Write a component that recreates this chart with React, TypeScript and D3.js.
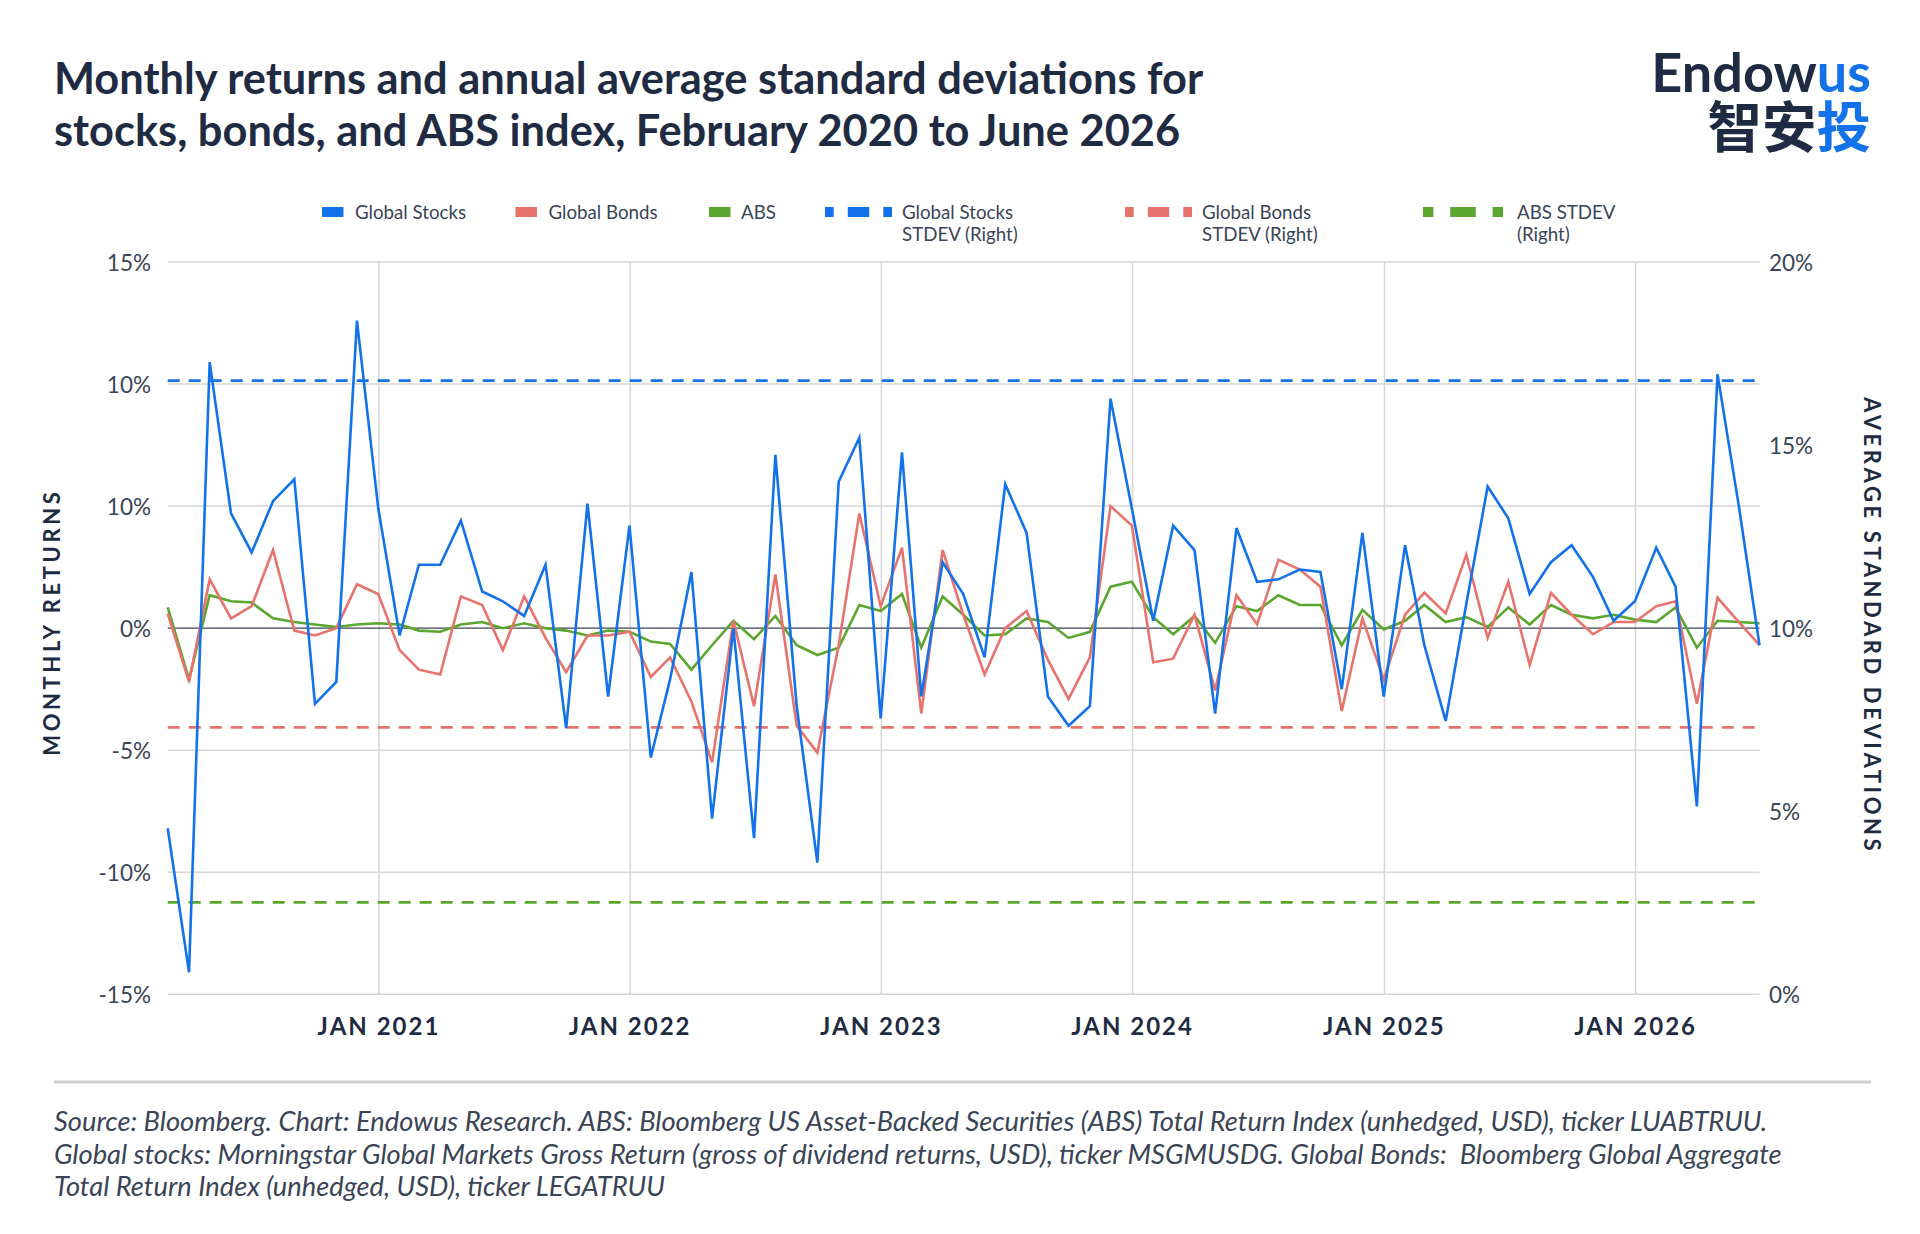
import React, { useEffect } from "react";
import * as d3 from "d3";

// ---------- DATA ----------
const startMonth = { year: 2020, month: 2 }; // Feb 2020 (month-end observations)
const globalStocks = [
  -8.2, -14.1, 10.9, 4.7, 3.1, 5.2, 6.1, -3.1, -2.2, 12.6, 4.9, -0.3,
  2.6, 2.6, 4.4, 1.5, 1.1, 0.5, 2.6, -4.1, 5.1, -2.8, 4.2, -5.3,
  -2.1, 2.3, -7.8, 0.0, -8.6, 7.1, -3.2, -9.6, 6.0, 7.8, -3.7, 7.2,
  -2.8, 2.7, 1.4, -1.2, 5.9, 3.9, -2.8, -4.0, -3.2, 9.4, 4.9, 0.3,
  4.2, 3.2, -3.5, 4.1, 1.9, 2.0, 2.4, 2.3, -2.5, 3.9, -2.8, 3.4,
  -0.7, -3.8, 1.0, 5.8, 4.5, 1.4, 2.7, 3.4, 2.1, 0.3, 1.1, 3.3,
  1.7, -7.3, 10.4, 5.0, -0.7,
];
const globalBonds = [
  0.6, -2.2, 2.0, 0.4, 0.9, 3.2, -0.1, -0.3, 0.0, 1.8, 1.4, -0.9,
  -1.7, -1.9, 1.3, 0.95, -0.9, 1.3, -0.4, -1.8, -0.3, -0.3, -0.15, -2.0,
  -1.2, -3.0, -5.5, 0.3, -3.2, 2.2, -4.0, -5.1, -0.7, 4.7, 0.9, 3.3,
  -3.5, 3.2, 0.55, -1.9, 0.0, 0.7, -1.3, -2.9, -1.2, 5.0, 4.2, -1.4,
  -1.25, 0.55, -2.55, 1.35, 0.15, 2.8, 2.4, 1.7, -3.4, 0.4, -2.1, 0.55,
  1.45, 0.6, 3.0, -0.4, 1.9, -1.5, 1.45, 0.55, -0.25, 0.25, 0.25, 0.9,
  1.1, -3.1, 1.25, 0.25, -0.7,
];
const absIndex = [
  0.85, -2.1, 1.35, 1.1, 1.05, 0.4, 0.25, 0.15, 0.05, 0.15, 0.2, 0.15,
  -0.1, -0.15, 0.15, 0.25, 0.0, 0.2, 0.0, -0.1, -0.3, -0.1, -0.15, -0.55,
  -0.65, -1.7, -0.7, 0.3, -0.45, 0.5, -0.7, -1.1, -0.8, 0.95, 0.7, 1.4,
  -0.8, 1.3, 0.55, -0.3, -0.25, 0.4, 0.25, -0.4, -0.15, 1.7, 1.9, 0.45,
  -0.25, 0.5, -0.6, 0.9, 0.7, 1.35, 0.95, 0.95, -0.7, 0.75, -0.05, 0.3,
  0.95, 0.25, 0.45, 0.05, 0.85, 0.15, 0.95, 0.55, 0.4, 0.55, 0.35, 0.25,
  0.85, -0.8, 0.3, 0.25, 0.2,
];
// annual average standard deviations (right axis, %)
const stdevStocks = 16.76;
const stdevBonds = 7.29;
const stdevAbs = 2.51;

const leftTicks = [15, 10, 5, 0, -5, -10, -15];
const leftTickLabels = ["15%", "10%", "10%", "0%", "-5%", "-10%", "-15%"];
const rightTicks = [20, 15, 10, 5, 0];
const rightTickLabels = ["20%", "15%", "10%", "5%", "0%"];
const xTickYears = [2021, 2022, 2023, 2024, 2025, 2026];
const xTickLabels = ["JAN 2021", "JAN 2022", "JAN 2023", "JAN 2024", "JAN 2025", "JAN 2026"];

const legendNames = [
  ["Global Stocks"],
  ["Global Bonds"],
  ["ABS"],
  ["Global Stocks", "STDEV (Right)"],
  ["Global Bonds", "STDEV (Right)"],
  ["ABS STDEV", "(Right)"],
];

const titleLines = [
  "Monthly returns and annual average standard deviations for",
  "stocks, bonds, and ABS index, February 2020 to June 2026",
];
const footerLines = [
  "Source: Bloomberg. Chart: Endowus Research. ABS: Bloomberg US Asset-Backed Securities (ABS) Total Return Index (unhedged, USD), ticker LUABTRUU.",
  "Global stocks: Morningstar Global Markets Gross Return (gross of dividend returns, USD), ticker MSGMUSDG. Global Bonds:  Bloomberg Global Aggregate",
  "Total Return Index (unhedged, USD), ticker LEGATRUU",
];

// ---------- STYLE / LAYOUT ----------
const W = 1920;
const H = 1234;
const M = { left: 167.7, right: 1759.5, top: 262, bottom: 994.3 };
const NAVY = "#1f2b42";
const TXT = "#3a4456";
const BLUE = "#1372ea";
const RED = "#e8736c";
const GREEN = "#5aa62e";
const GRID = "#d6d6d6";
const FONT = "Lato, 'Noto Sans', sans-serif";

const legendLayout = [
  { x: 322, sw: 21.5, dashed: false, color: BLUE, tx: 355 },
  { x: 515.5, sw: 21.5, dashed: false, color: RED, tx: 548.5 },
  { x: 709, sw: 21.5, dashed: false, color: GREEN, tx: 741 },
  { x: 825, sw: 67, dashed: true, color: BLUE, tx: 902 },
  { x: 1125, sw: 67, dashed: true, color: RED, tx: 1202 },
  { x: 1423, sw: 80, dashed: true, color: GREEN, tx: 1517 },
];

export default function App() {
  useEffect(() => {
    document.body.style.margin = "0";
  }, []);

  const dates = globalStocks.map((_, i) =>
    new Date(startMonth.year, startMonth.month + i, 0)
  );
  const x = d3
    .scaleTime()
    .domain([dates[0], dates[dates.length - 1]])
    .range([M.left, M.right]);
  const yL = d3.scaleLinear().domain([-15, 15]).range([M.bottom, M.top]);
  const yR = d3.scaleLinear().domain([0, 20]).range([M.bottom, M.top]);

  const line = d3
    .line<number>()
    .x((_, i) => x(dates[i]))
    .y((d) => yL(d));

  const series = [
    { data: absIndex, color: GREEN },
    { data: globalBonds, color: RED },
    { data: globalStocks, color: BLUE },
  ];
  const stdevs = [
    { v: stdevStocks, color: BLUE },
    { v: stdevBonds, color: RED },
    { v: stdevAbs, color: GREEN },
  ];

  const midY = (M.top + M.bottom) / 2;

  return (
    <svg width={W} height={H} style={{ display: "block", background: "#fff" }} fontFamily={FONT}>
      {/* Title */}
      {titleLines.map((t, i) => (
        <text key={i} x={54} y={94 + i * 52} fontSize={43.4} fontWeight={700} fill={NAVY}>
          {t}
        </text>
      ))}
      {/* Logo */}
      <text x={1871} y={92} textAnchor="end" fontSize={54} fontWeight={700} fill={NAVY}>
        Endow<tspan fill={BLUE}>us</tspan>
      </text>
      <text x={1871} y={147} textAnchor="end" fontSize={54.5} fontWeight={700} fill={NAVY}
        fontFamily="'Noto Sans CJK SC', sans-serif">
        智安<tspan fill={BLUE}>投</tspan>
      </text>

      {/* Legend */}
      {legendNames.map((lines, i) => {
        const L = legendLayout[i];
        const cy = 212;
        const h = 10;
        return (
          <g key={i}>
            {L.dashed ? (
              [[0, 0.13], [0.34, 0.66], [0.87, 1]].map(([a, b], k) => (
                <rect key={k} x={L.x + a * L.sw} y={cy - h / 2} width={(b - a) * L.sw} height={h} fill={L.color} />
              ))
            ) : (
              <rect x={L.x} y={cy - h / 2} width={L.sw} height={h} fill={L.color} />
            )}
            {lines.map((s, k) => (
              <text key={k} x={L.tx} y={cy + k * 22} dy="0.36em" fontSize={18.7} fill={TXT}>
                {s}
              </text>
            ))}
          </g>
        );
      })}

      {/* Horizontal gridlines */}
      {leftTicks.map((t) =>
        t === 0 ? null : (
          <line key={t} x1={M.left} x2={M.right} y1={yL(t)} y2={yL(t)} stroke={GRID} strokeWidth={1.5} />
        )
      )}
      {/* Vertical gridlines */}
      {xTickYears.map((yr) => {
        const xx = x(new Date(yr, 0, 1));
        return <line key={yr} x1={xx} x2={xx} y1={M.top} y2={M.bottom} stroke={GRID} strokeWidth={1.5} />;
      })}
      {/* zero line */}
      <line x1={M.left} x2={M.right} y1={yL(0)} y2={yL(0)} stroke="#3b4252" strokeWidth={1.2} />

      {/* Left ticks */}
      {leftTicks.map((t, i) => (
        <text key={t} x={151} y={yL(t)} dy="0.4em" textAnchor="end" fontSize={22.5} fill={TXT}>
          {leftTickLabels[i]}
        </text>
      ))}
      {/* Right ticks */}
      {rightTicks.map((t, i) => (
        <text key={t} x={1769} y={yR(t)} dy="0.4em" textAnchor="start" fontSize={22.5} fill={TXT}>
          {rightTickLabels[i]}
        </text>
      ))}
      {/* X ticks */}
      {xTickYears.map((yr, i) => (
        <text key={yr} x={x(new Date(yr, 0, 1))} y={1034.5} textAnchor="middle" fontSize={24} fontWeight={700}
          fill={NAVY} letterSpacing={2}>
          {xTickLabels[i]}
        </text>
      ))}

      {/* Axis titles */}
      <text transform={`translate(60,${midY - 6}) rotate(-90)`} textAnchor="middle" fontSize={22}
        fontWeight={700} fill={NAVY} letterSpacing={3.6}>
        MONTHLY RETURNS
      </text>
      <text transform={`translate(1863.5,${midY - 2.5}) rotate(90)`} textAnchor="middle" fontSize={22}
        fontWeight={700} fill={NAVY} letterSpacing={3.6}>
        AVERAGE STANDARD DEVIATIONS
      </text>

      {/* STDEV dashed lines */}
      {stdevs.map((s, i) => (
        <line key={i} x1={M.left} x2={M.right} y1={yR(s.v)} y2={yR(s.v)} stroke={s.color} strokeWidth={2.6}
          strokeDasharray="12 9" />
      ))}

      {/* Series */}
      {series.map((s, i) => (
        <path key={i} d={line(s.data) || ""} fill="none" stroke={s.color} strokeWidth={2.6} strokeLinejoin="miter" />
      ))}

      {/* Separator */}
      <line x1={54} x2={1871} y1={1082} y2={1082} stroke="#cfcfcf" strokeWidth={3} />

      {/* Footer */}
      {footerLines.map((t, i) => (
        <text key={i} x={54} y={1131} dy={i * 32.5} fontSize={27.3} fontStyle="italic" fill={TXT}
          style={{ whiteSpace: "pre" }}>
          {t}
        </text>
      ))}
    </svg>
  );
}
